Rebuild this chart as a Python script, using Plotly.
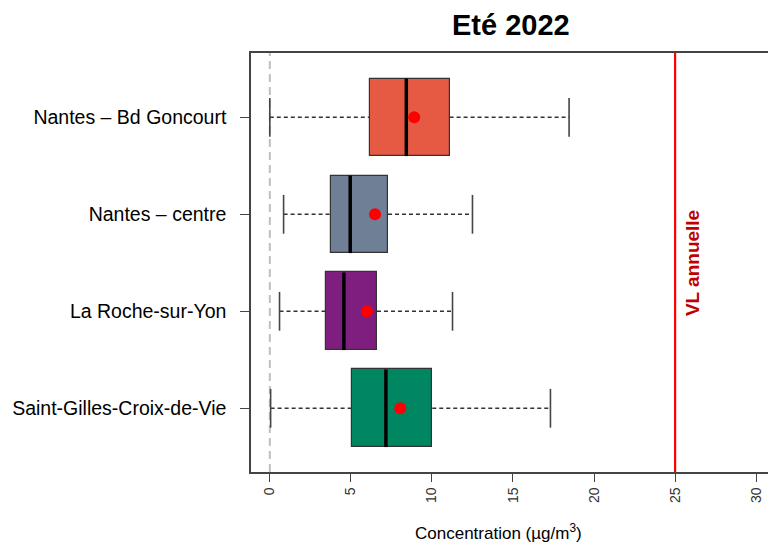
import plotly.graph_objects as go

# ---- data ----
stations = ["Saint-Gilles-Croix-de-Vie", "La Roche-sur-Yon", "Nantes – centre", "Nantes – Bd Goncourt"]
lower = [0.05, 0.6, 0.85, 0.0]
q1 = [5.04, 3.48, 3.77, 6.15]
median = [7.16, 4.57, 4.96, 8.42]
q3 = [10.02, 6.61, 7.29, 11.09]
upper = [17.31, 11.27, 12.5, 18.46]
mean = [8.05, 5.99, 6.49, 8.91]
colors = ["#008762", "#7E1F80", "#6E7F96", "#E65A44"]
limit_value = 25
x_ticks = [0, 5, 10, 15, 20, 25, 30]

pos = list(range(1, len(stations) + 1))
half_box = 0.4
half_cap = 0.2

# plot area geometry (pixels)
L, R, T, B = 251, 0, 53, 71
W, H = 768, 543
pw, ph = W - L - R, H - T - B

fig = go.Figure()

# whiskers (dashed)
wx, wy = [], []
for i, p in enumerate(pos):
    wx += [lower[i], q1[i], None, q3[i], upper[i], None]
    wy += [p, p, None, p, p, None]
fig.add_trace(go.Scatter(x=wx, y=wy, mode="lines",
                         line=dict(color="#333333", width=1.6, dash="4px,3px"),
                         hoverinfo="skip", showlegend=False))
# caps
cx, cy = [], []
for i, p in enumerate(pos):
    cx += [lower[i], lower[i], None, upper[i], upper[i], None]
    cy += [p - half_cap, p + half_cap, None, p - half_cap, p + half_cap, None]
fig.add_trace(go.Scatter(x=cx, y=cy, mode="lines",
                         line=dict(color="#444444", width=1.6),
                         hoverinfo="skip", showlegend=False))
# boxes
fig.add_trace(go.Bar(y=pos, x=[b - a for a, b in zip(q1, q3)], base=q1,
                     orientation="h", width=2 * half_box,
                     marker=dict(color=colors, line=dict(color="#333333", width=1.2)),
                     showlegend=False))
# medians
mx, my = [], []
for i, p in enumerate(pos):
    mx += [median[i], median[i], None]
    my += [p - half_box, p + half_box, None]
fig.add_trace(go.Scatter(x=mx, y=my, mode="lines",
                         line=dict(color="black", width=3.5),
                         hoverinfo="skip", showlegend=False))
# means
fig.add_trace(go.Scatter(x=mean, y=pos, mode="markers",
                         marker=dict(color="#FF0000", size=12),
                         showlegend=False))

# reference lines
fig.add_shape(type="line", xref="x", yref="paper", x0=0, x1=0, y0=0, y1=1,
              line=dict(color="#BFBFBF", width=2, dash="8px,5px"), layer="below")
fig.add_shape(type="line", xref="x", yref="paper", x0=limit_value, x1=limit_value, y0=0, y1=1,
              line=dict(color="#FF0000", width=2.2))
fig.add_annotation(x=limit_value, xref="x", xshift=17, y=1 - (263 - T) / ph, yref="paper",
                   yanchor="middle",
                   text="<b>VL annuelle</b>", textangle=-90, showarrow=False,
                   font=dict(family="Liberation Sans, Arial", size=19, color="#C00000"))

# title and axis title as annotations for precise placement
fig.add_annotation(x=(511 - L) / pw, xref="paper", xanchor="center",
                   y=1 + (T - 25) / ph, yref="paper", yanchor="middle",
                   text="<b>Eté 2022</b>", showarrow=False,
                   font=dict(family="Liberation Sans, Arial", size=29, color="black"))
fig.add_annotation(x=(498.5 - L) / pw, xref="paper", xanchor="center",
                   y=-(532 - (H - B)) / ph, yref="paper", yanchor="middle",
                   text="Concentration (µg/m<sup>3</sup>)", showarrow=False,
                   font=dict(family="Liberation Sans, Arial", size=17, color="black"))

fig.update_layout(
    width=W, height=H,
    margin=dict(l=L, r=R, t=T, b=B, autoexpand=False),
    paper_bgcolor="white", plot_bgcolor="white",
    font=dict(family="Liberation Sans, Arial", color="black"),
    bargap=0,
)
fig.update_xaxes(range=[-1.16, 30.73], tickvals=x_ticks, ticktext=[str(t) for t in x_ticks],
                 tickangle=-90, ticks="outside", ticklen=8, tickcolor="#444444",
                 tickfont=dict(size=14, color="#333333"), automargin=False,
                 showline=True, linecolor="#444444", linewidth=1.5, mirror=True,
                 showgrid=False, zeroline=False)
fig.update_yaxes(range=[0.343, 4.663], tickvals=pos, ticktext=stations,
                 ticks="outside", ticklen=9, tickcolor="#444444", ticklabelstandoff=10,
                 tickfont=dict(size=19.5, color="black"), automargin=False,
                 showline=True, linecolor="#444444", linewidth=1.5,
                 showgrid=False, zeroline=False)

fig.write_html("out.html", config={"displayModeBar": False},
               post_script="document.body.style.margin='0';")
